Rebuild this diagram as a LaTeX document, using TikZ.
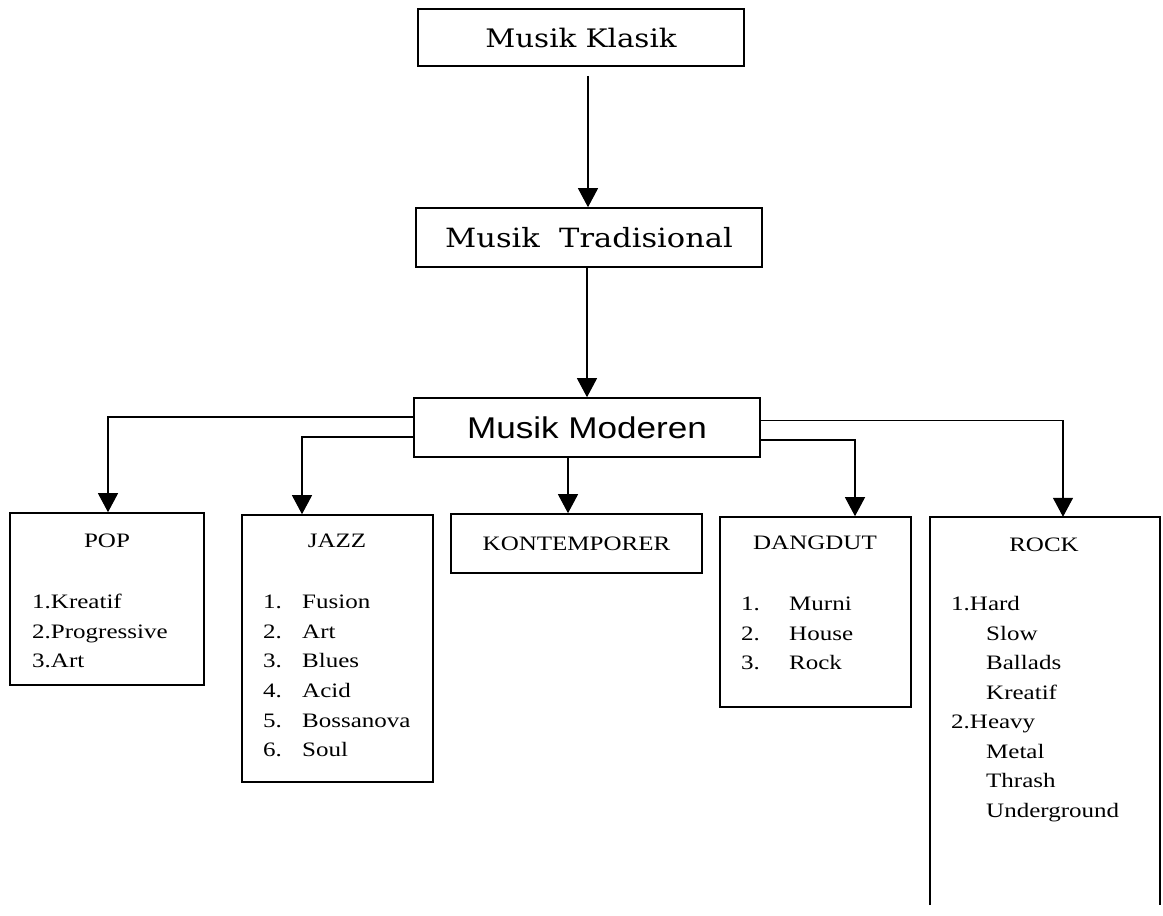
\documentclass[tikz,border=0pt]{standalone}
\usepackage{fontspec}
\usetikzlibrary{arrows.meta}
\newfontfamily\bkfont[FakeStretch=1.15]{DejaVu Serif}
\newfontfamily\arfont[FakeStretch=1.17]{Liberation Sans}
\newfontfamily\gafont[FakeStretch=1.22]{Liberation Serif}
\begin{document}
\begin{tikzpicture}[x=1pt,y=-1pt,
  boxline/.style={line width=1.6pt},
  box/.style={boxline,draw,rectangle,inner sep=0pt},
  openbox/.style={rectangle,inner sep=0pt},
  arr/.style={line width=1.2pt,-{Triangle[width=20pt,length=19pt]}},
  lbl/.style={font=\gafont\fontsize{20.5}{24}\selectfont,inner sep=0pt,anchor=base},
  item/.style={lbl,anchor=base west}]
\useasboundingbox[fill=white] (0,0) rectangle (1163,916);

% top boxes
\node[box,minimum width=326pt,minimum height=57pt,font=\bkfont\fontsize{25.5}{29}\selectfont] (klasik) at (581,37.5) {Musik Klasik};
\node[box,minimum width=346pt,minimum height=59pt,font=\bkfont\fontsize{26.5}{30}\selectfont] (trad) at (589,237.5) {Musik\ \ Tradisional};
\node[box,minimum width=346pt,minimum height=59pt,font=\arfont\fontsize{30}{34}\selectfont] (mod) at (587,427.5) {Musik Moderen};

% lower boxes
\node[box,minimum width=194pt,minimum height=172pt] (pop) at (107,599) {};
\node[box,minimum width=191pt,minimum height=267pt] (jazz) at (337.5,648.5) {};
\node[box,minimum width=251pt,minimum height=59pt,font=\gafont\fontsize{20.5}{24}\selectfont] (kont) at (576.5,543.5) {KONTEMPORER};
\node[box,minimum width=191pt,minimum height=190pt] (dang) at (815.5,612) {};
\node[openbox,minimum width=230pt,minimum height=388pt] (rock) at (1045,711) {};
\draw[boxline] (rock.south west) -- (rock.north west) -- (rock.north east) -- (rock.south east);

% POP
\node[lbl] (popt) at (107,547) {POP};
\node[item] (pop1) at (32,608) {1.Kreatif};
\node[item] (pop2) at (32,638) {2.Progressive};
\node[item] (pop3) at (32,667) {3.Art};

% JAZZ
\node[lbl] (jazzt) at (337,547) {JAZZ};
\node[item] (jn1) at (263,608) {1.};
\node[item] (jn2) at (263,638) {2.};
\node[item] (jn3) at (263,667) {3.};
\node[item] (jn4) at (263,697) {4.};
\node[item] (jn5) at (263,727) {5.};
\node[item] (jn6) at (263,756) {6.};
\node[item] (j1) at (302,608) {Fusion};
\node[item] (j2) at (302,638) {Art};
\node[item] (j3) at (302,667) {Blues};
\node[item] (j4) at (302,697) {Acid};
\node[item] (j5) at (302,727) {Bossanova};
\node[item] (j6) at (302,756) {Soul};

% DANGDUT
\node[lbl] (dangt) at (815,549) {DANGDUT};
\node[item] (dn1) at (741,610) {1.};
\node[item] (dn2) at (741,640) {2.};
\node[item] (dn3) at (741,669) {3.};
\node[item] (d1) at (789,610) {Murni};
\node[item] (d2) at (789,640) {House};
\node[item] (d3) at (789,669) {Rock};

% ROCK
\node[lbl] (rockt) at (1044,551) {ROCK};
\node[item] (r1) at (951,610) {1.Hard};
\node[item] (r2) at (986,640) {Slow};
\node[item] (r3) at (986,669) {Ballads};
\node[item] (r4) at (986,699) {Kreatif};
\node[item] (r5) at (951,728) {2.Heavy};
\node[item] (r6) at (986,758) {Metal};
\node[item] (r7) at (986,787) {Thrash};
\node[item] (r8) at (986,817) {Underground};

% connectors
\draw[arr,shorten <=9pt] ([xshift=-1pt]trad.north |- klasik.south) -- ([xshift=-1pt]trad.north);
\draw[arr] (mod.north |- trad.south) -- (mod.north);
\draw[arr] ([yshift=10.5pt]mod.west) -| ([xshift=1pt]pop.north);
\draw[arr] ([yshift=-9.5pt]mod.west) -| ([xshift=-35.5pt]jazz.north);
\draw[arr] ([xshift=-8.5pt]kont.north |- mod.south) -- ([xshift=-8.5pt]kont.north);
\draw[arr] ([yshift=-12.5pt]mod.east) -| ([xshift=39.5pt]dang.north);
\draw[arr] ([yshift=7pt]mod.east) -| ([xshift=18pt]rock.north);
\end{tikzpicture}
\end{document}
